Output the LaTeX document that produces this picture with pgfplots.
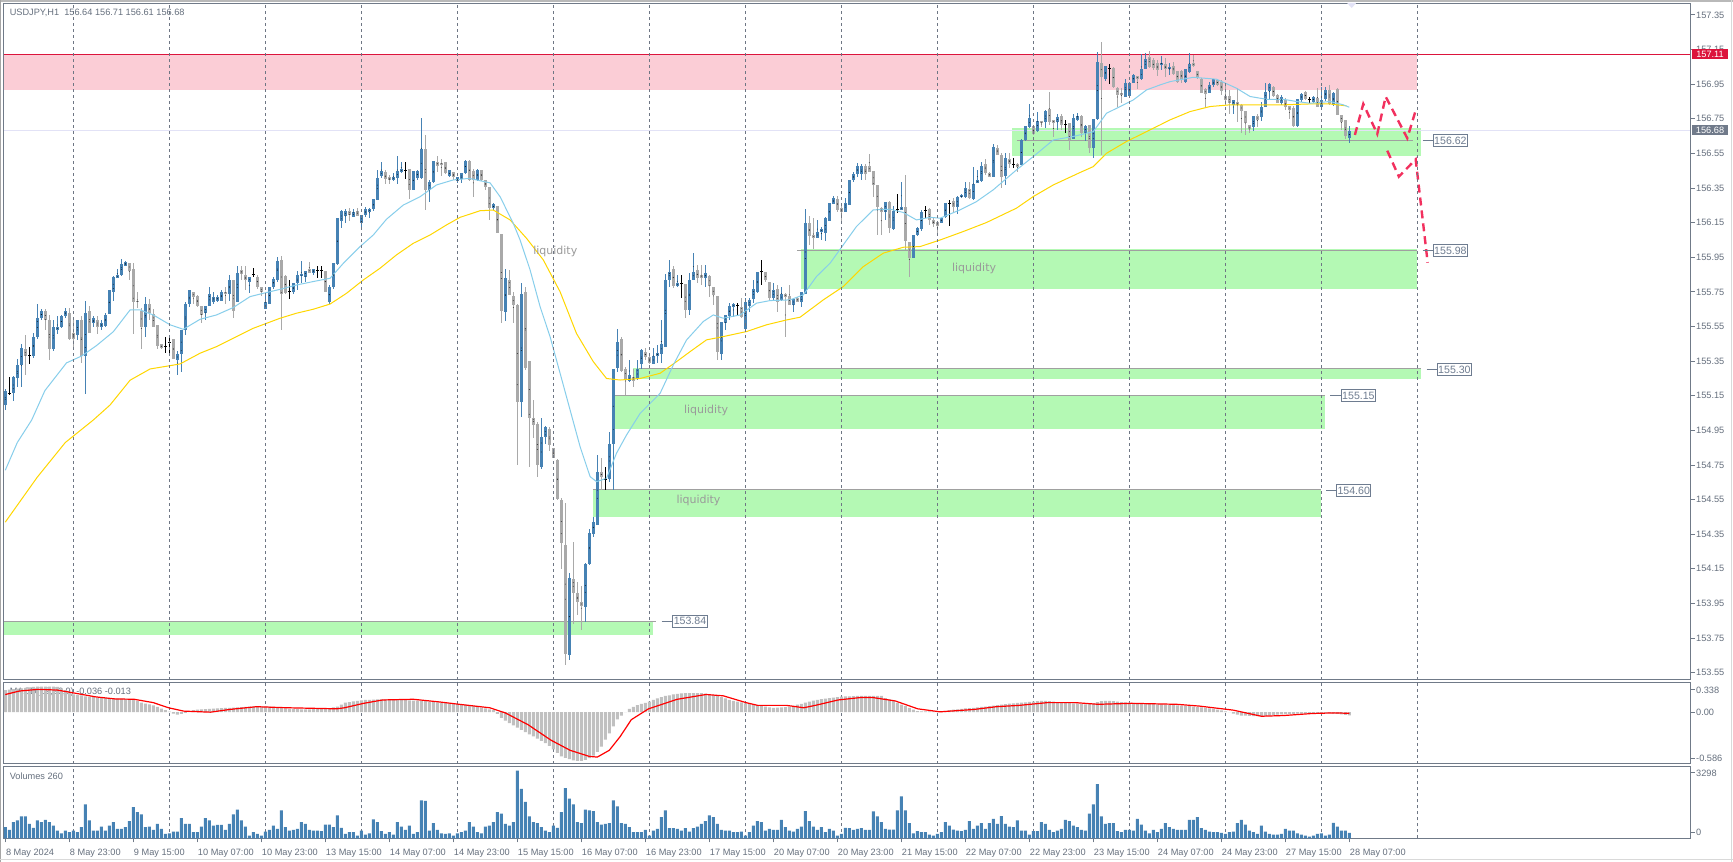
\documentclass[border=0pt]{standalone}
\usepackage{fontspec}
\setmainfont{Liberation Sans}
\newfontfamily\dejavu{DejaVu Sans}
\usepackage{pgfplots}
\usepackage{pgfplotstable}
\pgfplotsset{compat=1.18}

\definecolor{bull}{HTML}{4682B4}
\definecolor{bear}{HTML}{A9A9A9}
\definecolor{maone}{HTML}{87CEEB}
\definecolor{matwo}{HTML}{FFD700}
\definecolor{pinkz}{HTML}{FBCDD6}
\definecolor{redl}{HTML}{DC143C}
\definecolor{greenz}{HTML}{B4F9B4}
\definecolor{zline}{HTML}{A0A0A0}
\definecolor{curl}{HTML}{E2E2F6}
\definecolor{framec}{HTML}{707A88}
\definecolor{gridc}{HTML}{6E7684}
\definecolor{labc}{HTML}{66707E}
\definecolor{macdc}{HTML}{C0C0C0}
\definecolor{projc}{HTML}{F2305E}
\definecolor{liqc}{HTML}{9A9A9A}
\definecolor{boxc}{HTML}{6E7C90}
\definecolor{curbox}{HTML}{707A8A}

\newcommand\tkf{\fontsize{9.2}{11}\selectfont}
\newcommand\boxf{\fontsize{10.6}{12}\selectfont}
\newcommand\liqf{\dejavu\fontsize{11}{13}\selectfont}

\pgfplotstableread{
i o h l c
0 155.10 155.19 155.07 155.18
1 155.165 155.26 155.155 155.165
2 155.165 155.265 155.12 155.26
3 155.255 155.36 155.20 155.33
4 155.33 155.45 155.20 155.425
5 155.42 155.50 155.27 155.38
6 155.38 155.43 155.335 155.38
7 155.38 155.51 155.37 155.49
8 155.49 155.68 155.48 155.60
9 155.60 155.65 155.59 155.64
10 155.64 155.65 155.53 155.59
11 155.59 155.62 155.36 155.42
12 155.42 155.59 155.41 155.55
13 155.53 155.61 155.51 155.55
14 155.55 155.62 155.54 155.61
15 155.61 155.66 155.60 155.64
16 155.63 155.66 155.47 155.48
17 155.51 155.59 155.42 155.48
18 155.50 155.59 155.47 155.59
19 155.59 155.61 155.34 155.38
20 155.38 155.70 155.16 155.63
21 155.64 155.67 155.51 155.515
22 155.57 155.61 155.55 155.60
23 155.59 155.61 155.51 155.55
24 155.55 155.59 155.53 155.57
25 155.555 155.63 155.55 155.62
26 155.62 155.76 155.62 155.76
27 155.75 155.84 155.70 155.84
28 155.83 155.88 155.83 155.85
29 155.85 155.94 155.84 155.91
30 155.90 155.93 155.90 155.92
31 155.92 155.92 155.82 155.87
32 155.88 155.92 155.51 155.69
33 155.70 155.75 155.66 155.69
34 155.64 155.66 155.42 155.55
35 155.55 155.72 155.49 155.68
36 155.68 155.71 155.59 155.63
37 155.62 155.65 155.55 155.55
38 155.56 155.56 155.42 155.44
39 155.45 155.45 155.42 155.425
40 155.435 155.49 155.40 155.435
41 155.46 155.49 155.40 155.46
42 155.48 155.48 155.36 155.36
43 155.36 155.41 155.27 155.39
44 155.39 155.53 155.29 155.53
45 155.53 155.69 155.50 155.68
46 155.68 155.76 155.66 155.76
47 155.75 155.75 155.68 155.72
48 155.73 155.73 155.66 155.67
49 155.67 155.67 155.57 155.62
50 155.63 155.67 155.59 155.67
51 155.67 155.78 155.67 155.74
52 155.69 155.75 155.68 155.72
53 155.70 155.73 155.69 155.72
54 155.70 155.76 155.70 155.75
55 155.75 155.78 155.68 155.74
56 155.74 155.85 155.70 155.82
57 155.82 155.82 155.60 155.64
58 155.69 155.90 155.69 155.86
59 155.88 155.90 155.82 155.855
60 155.85 155.90 155.76 155.82
61 155.81 155.835 155.745 155.835
62 155.85 155.89 155.835 155.85
63 155.84 155.85 155.77 155.78
64 155.78 155.78 155.73 155.75
65 155.65 155.73 155.65 155.69
66 155.68 155.78 155.68 155.78
67 155.78 155.84 155.77 155.825
68 155.82 155.955 155.81 155.93
69 155.935 155.96 155.53 155.74
70 155.84 155.85 155.74 155.745
71 155.75 155.82 155.71 155.75
72 155.75 155.80 155.74 155.80
73 155.80 155.87 155.76 155.85
74 155.84 155.93 155.80 155.855
75 155.84 155.875 155.81 155.875
76 155.885 155.92 155.86 155.86
77 155.86 155.885 155.85 155.885
78 155.873 155.90 155.83 155.873
79 155.873 155.90 155.83 155.873
80 155.87 155.873 155.75 155.75
81 155.69 155.79 155.68 155.78
82 155.78 155.92 155.77 155.92
83 155.91 156.18 155.905 156.18
84 156.16 156.225 156.12 156.22
85 156.19 156.23 156.15 156.22
86 156.22 156.235 156.16 156.195
87 156.185 156.23 156.185 156.21
88 156.22 156.235 156.19 156.19
89 156.15 156.195 156.12 156.195
90 156.195 156.24 156.185 156.23
91 156.215 156.235 156.18 156.23
92 156.228 156.285 156.22 156.285
93 156.285 156.455 156.28 156.41
94 156.42 156.50 156.41 156.45
95 156.44 156.455 156.375 156.40
96 156.415 156.425 156.375 156.40
97 156.40 156.44 156.395 156.415
98 156.41 156.535 156.375 156.45
99 156.445 156.50 156.435 156.458
100 156.45 156.50 156.40 156.45
101 156.46 156.46 156.285 156.34
102 156.34 156.45 156.34 156.45
103 156.41 156.455 156.40 156.45
104 156.41 156.757 156.405 156.576
105 156.575 156.66 156.227 156.34
106 156.34 156.40 156.27 156.387
107 156.387 156.507 156.378 156.507
108 156.50 156.535 156.445 156.48
109 156.495 156.52 156.42 156.49
110 156.50 156.50 156.43 156.436
111 156.42 156.455 156.415 156.455
112 156.445 156.445 156.40 156.415
113 156.39 156.415 156.38 156.415
114 156.405 156.44 156.38 156.435
115 156.44 156.515 156.435 156.51
116 156.51 156.515 156.39 156.40
117 156.45 156.46 156.30 156.40
118 156.40 156.46 156.39 156.455
119 156.455 156.455 156.39 156.40
120 156.40 156.40 156.34 156.355
121 156.355 156.355 156.165 156.233
122 156.233 156.265 156.225 156.258
123 156.245 156.245 156.09 156.092
124 156.085 156.085 155.57 155.642
125 155.636 155.88 155.58 155.834
126 155.82 155.877 155.73 155.732
127 155.727 155.75 155.57 155.674
128 155.674 155.68 154.75 155.116
129 155.116 155.80 155.026 155.738
130 155.75 155.78 155.30 155.31
131 155.35 155.35 154.737 155.025
132 155.025 155.125 154.904 154.98
133 154.99 155.00 154.683 154.75
134 154.737 155.025 154.73 154.914
135 154.914 154.975 154.875 154.972
136 154.96 154.97 154.833 154.866
137 154.85 154.85 154.789 154.789
138 154.783 154.783 154.55 154.558
139 154.55 154.56 154.147 154.30
140 154.29 154.53 153.594 153.662
141 153.652 154.125 153.624 154.095
142 154.09 154.307 153.835 154.01
143 154.012 154.076 153.884 153.96
144 153.96 154.05 153.797 153.936
145 153.932 154.186 153.845 154.178
146 154.178 154.378 154.17 154.355
147 154.355 154.448 154.336 154.423
148 154.404 154.808 154.404 154.712
149 154.712 154.789 154.605 154.679
150 154.667 154.74 154.605 154.667
151 154.673 154.943 154.654 154.875
152 154.875 155.308 154.605 155.308
153 155.308 155.534 155.289 155.462
154 155.478 155.491 155.289 155.295
155 155.308 155.318 155.154 155.25
156 155.237 155.356 155.231 155.27
157 155.26 155.308 155.203 155.237
158 155.245 155.356 155.241 155.308
159 155.333 155.424 155.308 155.418
160 155.405 155.424 155.357 155.372
161 155.372 155.395 155.333 155.341
162 155.337 155.424 155.337 155.38
163 155.38 155.443 155.337 155.399
164 155.391 155.588 155.341 155.453
165 155.434 155.857 155.434 155.819
166 155.819 155.935 155.78 155.867
167 155.88 155.90 155.77 155.784
168 155.784 155.847 155.78 155.803
169 155.796 155.847 155.713 155.796
170 155.796 155.796 155.597 155.645
171 155.645 155.86 155.617 155.819
172 155.82 155.973 155.82 155.868
173 155.877 155.906 155.80 155.829
174 155.848 155.906 155.79 155.829
175 155.829 155.906 155.781 155.858
176 155.845 155.848 155.723 155.785
177 155.777 155.781 155.675 155.733
178 155.729 155.729 155.357 155.405
179 155.395 155.579 155.357 155.579
180 155.573 155.617 155.531 155.617
181 155.612 155.685 155.589 155.669
182 155.662 155.685 155.608 155.681
183 155.67 155.685 155.612 155.67
184 155.665 155.714 155.598 155.604
185 155.535 155.714 155.535 155.694
186 155.67 155.714 155.637 155.704
187 155.708 155.819 155.689 155.766
188 155.752 155.868 155.746 155.868
189 155.868 155.935 155.791 155.868
190 155.864 155.868 155.81 155.816
191 155.806 155.81 155.704 155.714
192 155.714 155.80 155.704 155.762
193 155.766 155.791 155.637 155.694
194 155.704 155.781 155.70 155.739
195 155.739 155.743 155.492 155.723
196 155.729 155.791 155.675 155.675
197 155.675 155.714 155.637 155.71
198 155.714 155.72 155.69 155.694
199 155.694 155.752 155.665 155.752
200 155.737 156.228 155.737 156.151
201 156.151 156.189 156.022 156.074
202 156.08 156.176 155.997 156.064
203 156.06 156.166 156.06 156.099
204 156.099 156.128 156.05 156.112
205 156.093 156.181 156.047 156.176
206 156.163 156.266 156.163 156.262
207 156.258 156.305 156.258 156.291
208 156.291 156.305 156.214 156.224
209 156.233 156.253 156.147 156.214
210 156.214 156.291 156.214 156.266
211 156.253 156.397 156.253 156.397
212 156.397 156.445 156.388 156.43
213 156.43 156.493 156.416 156.48
214 156.431 156.493 156.40 156.48
215 156.48 156.493 156.40 156.431
216 156.48 156.547 156.445 156.445
217 156.451 156.451 156.301 156.368
218 156.368 156.368 156.08 156.24
219 156.233 156.243 156.08 156.214
220 156.214 156.272 156.166 156.272
221 156.272 156.278 156.089 156.118
222 156.112 156.247 156.112 156.22
223 156.228 156.316 156.205 156.228
224 156.224 156.387 156.224 156.243
225 156.243 156.426 155.993 156.047
226 156.041 156.041 155.835 155.945
227 155.945 156.08 155.945 156.08
228 156.08 156.128 156.074 156.118
229 156.112 156.224 156.104 156.214
230 156.22 156.247 156.176 156.22
231 156.228 156.234 156.137 156.166
232 156.166 156.176 156.128 156.143
233 156.156 156.156 156.085 156.128
234 156.15 156.185 156.147 156.176
235 156.182 156.266 156.176 156.266
236 156.262 156.285 156.132 156.262
237 156.276 156.291 156.214 156.243
238 156.243 156.305 156.201 156.301
239 156.297 156.316 156.291 156.311
240 156.301 156.387 156.291 156.349
241 156.345 156.387 156.285 156.291
242 156.285 156.47 156.28 156.374
243 156.378 156.455 156.378 156.397
244 156.393 156.503 156.388 156.478
245 156.49 156.518 156.426 156.436
246 156.436 156.445 156.413 156.417
247 156.413 156.605 156.413 156.59
248 156.58 156.599 156.541 156.541
249 156.541 156.555 156.349 156.413
250 156.42 156.551 156.368 156.522
251 156.518 156.551 156.465 156.49
252 156.484 156.522 156.465 156.484
253 156.49 156.494 156.445 156.474
254 156.484 156.632 156.484 156.628
255 156.628 156.709 156.62 156.709
256 156.705 156.836 156.701 156.753
257 156.709 156.709 156.657 156.663
258 156.682 156.792 156.676 156.74
259 156.738 156.74 156.70 156.725
260 156.734 156.802 156.701 156.798
261 156.805 156.904 156.715 156.734
262 156.744 156.744 156.644 156.725
263 156.734 156.779 156.686 156.759
264 156.767 156.779 156.686 156.715
265 156.715 156.744 156.667 156.715
266 156.725 156.728 156.57 156.628
267 156.632 156.779 156.632 156.753
268 156.744 156.786 156.74 156.767
269 156.767 156.773 156.648 156.667
270 156.667 156.715 156.624 156.709
271 156.715 156.715 156.555 156.58
272 156.58 156.748 156.522 156.748
273 156.748 157.139 156.744 157.081
274 157.075 157.196 156.542 156.994
275 156.979 157.056 156.971 157.056
276 157.042 157.067 156.952 157.042
277 157.042 157.048 156.932 156.932
278 156.932 156.932 156.821 156.888
279 156.902 156.927 156.844 156.888
280 156.879 156.979 156.879 156.96
281 156.882 156.965 156.87 156.956
282 156.96 157.01 156.956 157.004
283 157.0 157.0 156.921 156.98
284 156.979 157.125 156.975 157.036
285 157.036 157.129 157.036 157.094
286 157.11 157.145 157.048 157.052
287 157.09 157.10 157.03 157.042
288 157.075 157.09 157.00 157.036
289 157.062 157.11 157.029 157.075
290 157.067 157.10 156.994 157.036
291 157.036 157.071 157.004 157.048
292 157.056 157.081 157.004 157.01
293 157.029 157.029 156.96 156.965
294 157.029 157.035 156.96 156.975
295 156.96 157.036 156.955 157.036
296 157.023 157.129 157.013 157.067
297 157.071 157.119 157.052 157.056
298 157.029 157.029 156.98 156.99
299 156.979 156.985 156.898 156.902
300 156.921 156.927 156.811 156.894
301 156.902 156.965 156.898 156.946
302 156.946 156.979 156.936 156.979
303 156.975 156.979 156.94 156.946
304 156.965 156.975 156.888 156.913
305 156.882 156.946 156.831 156.859
306 156.882 156.917 156.779 156.844
307 156.831 156.859 156.779 156.859
308 156.85 156.927 156.734 156.831
309 156.831 156.836 156.671 156.798
310 156.798 156.798 156.657 156.725
311 156.715 156.715 156.667 156.69
312 156.701 156.767 156.682 156.767
313 156.767 156.779 156.701 156.744
314 156.759 156.85 156.74 156.821
315 156.821 156.956 156.817 156.908
316 156.908 156.956 156.86 156.95
317 156.936 156.94 156.879 156.882
318 156.888 156.892 156.844 156.844
319 156.844 156.888 156.831 156.879
320 156.863 156.869 156.802 156.821
321 156.821 156.825 156.748 156.802
322 156.811 156.825 156.701 156.709
323 156.709 156.863 156.701 156.863
324 156.86 156.902 156.85 156.894
325 156.908 156.913 156.859 156.863
326 156.859 156.879 156.844 156.859
327 156.85 156.885 156.844 156.875
328 156.869 156.927 156.821 156.821
329 156.821 156.936 156.817 156.863
330 156.863 156.936 156.856 156.917
331 156.917 156.946 156.831 156.836
332 156.831 156.908 156.825 156.898
333 156.921 156.927 156.773 156.773
334 156.773 156.773 156.686 156.734
335 156.744 156.744 156.632 156.651
336 156.64 156.71 156.61 156.68
}\candles

\pgfplotstableread{
i v m
0 541 0.25
1 410 0.255
2 787 0.26
3 869 0.265
4 1066 0.27
5 1066 0.275
6 705 0.28
7 508 0.285
8 869 0.29
9 787 0.29
10 902 0.29
11 787 0.29
12 623 0.29
13 377 0.285
14 246 0.27
15 377 0.25
16 295 0.225
17 377 0.20
18 295 0.195
19 541 0.19
20 1656 0.18
21 869 0.175
22 377 0.17
23 377 0.165
24 574 0.162
25 377 0.16
26 623 0.158
27 787 0.155
28 459 0.153
29 459 0.15
30 541 0.148
31 836 0.146
32 1525 0.14
33 1279 0.125
34 1164 0.108
35 541 0.098
36 574 0.088
37 410 0.077
38 705 0.06
39 459 0.04
40 213 0.023
41 246 0.005
42 328 -0.015
43 328 -0.027
44 984 -0.02
45 705 -0.008
46 705 0.01
47 295 0.023
48 295 0.028
49 574 0.032
50 984 0.035
51 869 0.038
52 623 0.04
53 656 0.042
54 656 0.045
55 410 0.048
56 705 0.05
57 1164 0.052
58 1394 0.055
59 869 0.058
60 574 0.06
61 131 0.062
62 295 0.062
63 213 0.062
64 131 0.062
65 328 0.062
66 410 0.062
67 623 0.058
68 459 0.053
69 1361 0.048
70 541 0.043
71 377 0.038
72 410 0.036
73 459 0.034
74 787 0.032
75 705 0.031
76 410 0.032
77 377 0.034
78 377 0.036
79 344 0.037
80 672 0.038
81 672 0.045
82 541 0.055
83 1115 0.062
84 508 0.085
85 213 0.108
86 295 0.115
87 295 0.122
88 131 0.128
89 377 0.134
90 180 0.138
91 246 0.14
92 918 0.142
93 787 0.144
94 344 0.146
95 213 0.145
96 295 0.143
97 180 0.141
98 787 0.139
99 574 0.138
100 410 0.136
101 623 0.134
102 213 0.132
103 295 0.13
104 1853 0.127
105 1820 0.124
106 377 0.12
107 738 0.116
108 410 0.112
109 246 0.108
110 213 0.104
111 246 0.1
112 131 0.096
113 246 0.092
114 295 0.089
115 377 0.083
116 787 0.077
117 574 0.071
118 295 0.062
119 246 0.052
120 574 0.042
121 623 0.032
122 787 0.023
123 1279 -0.02
124 1197 -0.065
125 705 -0.095
126 623 -0.123
127 787 -0.15
128 3296 -0.175
129 2411 -0.2
130 1771 -0.225
131 1066 -0.25
132 787 -0.275
133 738 -0.3
134 541 -0.325
135 377 -0.35
136 295 -0.38
137 623 -0.42
138 508 -0.46
139 1279 -0.5
140 2444 -0.516
141 1935 -0.53
142 1656 -0.546
143 787 -0.55
144 738 -0.55
145 1394 -0.54
146 1361 -0.52
147 1328 -0.49
148 787 -0.45
149 672 -0.39
150 705 -0.31
151 738 -0.24
152 1853 -0.16
153 1558 -0.08
154 738 -0.04
155 705 0.0
156 541 0.038
157 295 0.06
158 295 0.08
159 295 0.095
160 410 0.105
161 131 0.12
162 377 0.14
163 459 0.155
164 1033 0.17
165 1361 0.185
166 492 0.19
167 492 0.2
168 459 0.207
169 377 0.213
170 492 0.215
171 328 0.215
172 492 0.215
173 574 0.215
174 705 0.215
175 836 0.21
176 1115 0.205
177 1033 0.195
178 705 0.185
179 410 0.17
180 377 0.155
181 377 0.14
182 295 0.127
183 295 0.118
184 328 0.11
185 131 0.1
186 295 0.092
187 623 0.085
188 836 0.077
189 787 0.07
190 377 0.062
191 459 0.055
192 410 0.05
193 410 0.052
194 902 0.055
195 541 0.058
196 377 0.062
197 328 0.072
198 459 0.085
199 574 0.095
200 1328 0.108
201 836 0.12
202 574 0.13
203 410 0.14
204 541 0.148
205 295 0.154
206 459 0.16
207 377 0.165
208 131 0.17
209 213 0.175
210 508 0.178
211 492 0.18
212 410 0.182
213 459 0.185
214 492 0.185
215 410 0.185
216 410 0.185
217 1312 0.185
218 1066 0.185
219 787 0.185
220 459 0.16
221 426 0.146
222 426 0.125
223 1361 0.105
224 2050 0.085
225 1361 0.069
226 738 0.05
227 246 0.03
228 344 0.012
229 295 0.01
230 295 0.01
231 180 0.01
232 131 0.01
233 213 0.012
234 295 0.012
235 787 0.016
236 623 0.022
237 426 0.028
238 377 0.033
239 344 0.038
240 410 0.042
241 836 0.046
242 459 0.05
243 623 0.055
244 738 0.06
245 459 0.064
246 738 0.069
247 951 0.074
248 705 0.08
249 1082 0.085
250 705 0.09
251 574 0.096
252 541 0.1
253 869 0.105
254 377 0.108
255 377 0.112
256 180 0.116
257 344 0.12
258 344 0.124
259 787 0.127
260 705 0.127
261 410 0.125
262 295 0.12
263 377 0.115
264 459 0.11
265 902 0.108
266 836 0.104
267 623 0.1
268 541 0.096
269 410 0.092
270 377 0.089
271 1197 0.092
272 1656 0.1
273 2640 0.115
274 1066 0.125
275 705 0.127
276 738 0.127
277 738 0.124
278 344 0.12
279 295 0.115
280 410 0.11
281 410 0.108
282 377 0.105
283 951 0.102
284 672 0.1
285 377 0.098
286 246 0.095
287 410 0.092
288 295 0.089
289 459 0.087
290 738 0.085
291 541 0.082
292 459 0.079
293 410 0.076
294 410 0.073
295 410 0.07
296 902 0.069
297 902 0.064
298 1033 0.058
299 492 0.053
300 410 0.048
301 328 0.043
302 295 0.038
303 295 0.03
304 262 0.02
305 213 0.01
306 295 0.0
307 328 -0.015
308 738 -0.028
309 902 -0.038
310 672 -0.04
311 377 -0.042
312 295 -0.044
313 213 -0.045
314 623 -0.046
315 328 -0.042
316 213 -0.035
317 180 -0.03
318 180 -0.027
319 213 -0.024
320 459 -0.022
321 377 -0.02
322 377 -0.018
323 246 -0.016
324 180 -0.015
325 131 -0.013
326 82 -0.012
327 131 -0.01
328 213 -0.009
329 246 -0.008
330 131 -0.01
331 180 -0.012
332 754 -0.015
333 574 -0.02
334 377 -0.025
335 377 -0.03
336 260 -0.036
}\ind

\pgfplotsset{
  mtbase/.style={
    scale only axis, width=1687pt, anchor=south west,
    xmin=-0.325, xmax=421.425,
    axis line style={draw=framec, line width=1pt},
    tick align=outside, major tick length=4pt,
    tick style={draw=framec, line width=1pt},
    ytick pos=right, yticklabel pos=right,
    yticklabel style={font=\tkf, text=labc, anchor=west, inner sep=0pt, xshift=1pt},
    major grid style={draw=gridc, dash pattern=on 3pt off 3pt, line width=0.8pt},
    extra x ticks={17,41,...,353},
    extra x tick labels={},
    extra x tick style={grid=major, major tick length=0pt},
  },
  cdl/.style={only marks, mark=*, mark size=0.1pt, mark options={draw=none, fill=none}, forget plot},
}

\begin{document}
\begin{tikzpicture}
\path[use as bounding box] (0pt,0pt) rectangle (1733pt,862pt);
\fill[white] (0pt,0pt) rectangle (1733pt,862pt);
\fill[gray!55] (0pt,860.3pt) rectangle (1733pt,862pt);
\draw[gray!70, line width=1pt] (0.5pt,0pt) -- (0.5pt,862pt);
\draw[gray!30, line width=1pt] (1731pt,0pt) -- (1731pt,862pt);
\draw[gray!30, line width=1pt] (0pt,2pt) -- (1733pt,2pt);

% ===== main price panel =====
\begin{axis}[mtbase, at={(4pt,182pt)}, height=676pt,
  ymin=153.508, ymax=157.4135, axis on top, xtick=\empty,
  ytick={153.55,153.75,153.95,154.15,154.35,154.55,154.75,154.95,155.15,155.35,155.55,155.75,155.95,156.15,156.35,156.55,156.75,156.95,157.15,157.35},
  yticklabels={153.55,153.75,153.95,154.15,154.35,154.55,154.75,154.95,155.15,155.35,155.55,155.75,155.95,156.15,156.35,156.55,156.75,156.95,157.15,157.35}]
% zones
\fill[pinkz] (axis cs:-1,156.917) rectangle (axis cs:352.9,157.119);
\fill[greenz] (axis cs:251.8,156.535) rectangle (axis cs:353.9,156.699);
\fill[greenz] (axis cs:198.9,155.765) rectangle (axis cs:352.9,155.996);
\fill[greenz] (axis cs:157,155.247) rectangle (axis cs:353.9,155.31);
\fill[greenz] (axis cs:152.4,154.957) rectangle (axis cs:329.9,155.153);
\fill[greenz] (axis cs:147,154.452) rectangle (axis cs:328.9,154.606);
\fill[greenz] (axis cs:-1,153.768) rectangle (axis cs:161.9,153.845);
\draw[zline, line width=1pt] (axis cs:252.9,156.624) -- (axis cs:351.9,156.624);
\draw[zline, line width=1pt] (axis cs:198,155.988) -- (axis cs:352.9,155.988);
\draw[zline, line width=1pt] (axis cs:158.5,155.305) -- (axis cs:353.9,155.305);
\draw[zline, line width=1pt] (axis cs:152.4,155.153) -- (axis cs:329.9,155.153);
\draw[zline, line width=1pt] (axis cs:147,154.606) -- (axis cs:328.9,154.606);
\draw[zline, line width=1pt] (axis cs:-1,153.845) -- (axis cs:162.7,153.845);
\draw[curl, line width=1pt] (axis cs:-1,156.683) -- (axis cs:430,156.683);
\draw[redl, line width=1pt] (axis cs:-1,157.119) -- (axis cs:430,157.119);
% candles: doji
\addplot[cdl,
  restrict expr to domain={(\thisrow{c}-\thisrow{o})*1000+50}{49.5:50.5},
  error bars/.cd, y dir=both, y explicit, error mark=none,
  error bar style={draw=black, line width=1pt}]
  table[x=i, y expr={(\thisrow{h}+\thisrow{l})/2}, y error expr={(\thisrow{h}-\thisrow{l})/2}] {\candles};
\addplot[cdl,
  restrict expr to domain={(\thisrow{c}-\thisrow{o})*1000+50}{49.5:50.5},
  error bars/.cd, x dir=both, x explicit, error mark=none,
  error bar style={draw=black, line width=1pt}]
  table[x=i, y=o, x error expr={0.4}] {\candles};
% bull
\addplot[cdl,
  restrict expr to domain={\thisrow{c}-\thisrow{o}+1}{1.00001:100},
  error bars/.cd, y dir=both, y explicit, error mark=none,
  error bar style={draw=bull, line width=1pt}]
  table[x=i, y expr={(\thisrow{h}+\thisrow{l})/2}, y error expr={(\thisrow{h}-\thisrow{l})/2}] {\candles};
\addplot[cdl,
  restrict expr to domain={\thisrow{c}-\thisrow{o}+1}{1.00001:100},
  error bars/.cd, y dir=both, y explicit, error mark=none,
  error bar style={draw=bull, line width=3pt}]
  table[x=i, y expr={(\thisrow{o}+\thisrow{c})/2}, y error expr={(\thisrow{c}-\thisrow{o})/2}] {\candles};
% bear
\addplot[cdl,
  restrict expr to domain={\thisrow{o}-\thisrow{c}+1}{1.00001:100},
  error bars/.cd, y dir=both, y explicit, error mark=none,
  error bar style={draw=bear, line width=1pt}]
  table[x=i, y expr={(\thisrow{h}+\thisrow{l})/2}, y error expr={(\thisrow{h}-\thisrow{l})/2}] {\candles};
\addplot[cdl,
  restrict expr to domain={\thisrow{o}-\thisrow{c}+1}{1.00001:100},
  error bars/.cd, y dir=both, y explicit, error mark=none,
  error bar style={draw=bear, line width=3pt}]
  table[x=i, y expr={(\thisrow{o}+\thisrow{c})/2}, y error expr={(\thisrow{o}-\thisrow{c})/2}] {\candles};
% moving averages
\addplot[matwo, line width=1pt] coordinates {(0,154.42)(8,154.68)(15,154.88)(22,155.01)(26.2,155.097)(31.2,155.24)(36.2,155.305)(41.2,155.324)(43.7,155.334)(48.7,155.396)(52.8,155.434)(58.7,155.502)(62,155.54)(68.7,155.598)(72.8,155.627)(77,155.65)(81.2,155.68)(85.3,155.742)(89.5,155.819)(93.7,155.887)(97.8,155.964)(102,156.031)(106.2,156.079)(110.3,156.137)(113.7,156.181)(118.7,156.219)(122,156.223)(126.2,156.166)(130.3,156.06)(134.5,155.935)(138.7,155.751)(142.8,155.51)(147,155.347)(150.3,155.25)(153.7,155.241)(158.7,155.25)(163.7,155.28)(167.8,155.347)(171.2,155.405)(175.3,155.473)(179.5,155.492)(185.3,155.521)(190.3,155.56)(195.3,155.588)(198.7,155.604)(204.5,155.704)(209.5,155.781)(214.5,155.896)(219.5,155.974)(224.5,156.008)(228.7,156.012)(233.7,156.05)(239.5,156.099)(245.3,156.151)(252.8,156.234)(257,156.301)(262,156.368)(268.7,156.44)(272,156.474)(275.3,156.551)(280.3,156.619)(285.3,156.676)(288.7,156.715)(291.2,156.744)(296.2,156.792)(301.2,156.821)(306.2,156.831)(311.2,156.831)(319.5,156.831)(326.2,156.836)(331.2,156.836)(335.3,156.825)};
\addplot[maone, line width=1pt] coordinates {(0,154.72)(3,154.88)(6.6,155.01)(9.9,155.18)(15.3,155.34)(19.1,155.38)(22.8,155.44)(27,155.52)(31.2,155.646)(33.7,155.646)(37,155.617)(41.2,155.56)(44.5,155.534)(48.7,155.592)(52.8,155.617)(57,155.66)(61.2,155.723)(64.5,155.742)(68.7,155.765)(72.8,155.79)(77,155.81)(81.2,155.829)(84.5,155.915)(88.7,156.012)(92,156.079)(95.3,156.17)(99.5,156.252)(103.7,156.30)(107.8,156.368)(112,156.397)(116,156.406)(121.2,156.38)(123.7,156.30)(127,156.146)(128.7,156.05)(131.2,155.877)(133.7,155.665)(136.2,155.491)(138.7,155.28)(141.2,155.068)(143.7,154.856)(146.2,154.683)(147.8,154.654)(150.3,154.673)(152.8,154.818)(155.3,154.923)(158.7,155.048)(163.7,155.164)(167,155.328)(170.3,155.472)(174.5,155.579)(177,155.617)(179.5,155.598)(183.7,155.617)(187.8,155.685)(191.2,155.70)(196.2,155.704)(199.5,155.733)(202.8,155.839)(206.2,155.916)(209.5,156.022)(212.8,156.128)(217,156.224)(221.2,156.228)(224.5,156.209)(227.8,156.166)(231.2,156.181)(233.7,156.176)(238.7,156.224)(242.8,156.272)(247,156.34)(252.8,156.455)(257,156.532)(262,156.628)(267,156.648)(272,156.676)(275.3,156.782)(278.7,156.821)(282,156.859)(285.3,156.917)(288.7,156.946)(291.2,156.965)(297,156.99)(302.8,156.979)(307.8,156.927)(311.2,156.879)(315.3,156.863)(319.5,156.863)(322.8,156.85)(326.2,156.84)(331.2,156.85)(334.5,156.831)(336,156.817)};
% projection
\addplot[projc, line width=2.4pt, dash pattern=on 8pt off 5pt] coordinates {(337.4,156.657)(339.5,156.836)(343.0,156.663)(345.1,156.878)(350.5,156.638)(352.7,156.806)};
\addplot[projc, line width=2.4pt, dash pattern=on 8pt off 5pt] coordinates {(345.5,156.566)(348.4,156.416)(352.6,156.516)(355.6,155.919)};
% labels
\node[font=\liqf, text=liqc] at (axis cs:137.5,155.983) {liquidity};
\node[font=\liqf, text=liqc] at (axis cs:242.2,155.887) {liquidity};
\node[font=\liqf, text=liqc] at (axis cs:175.2,155.068) {liquidity};
\node[font=\liqf, text=liqc] at (axis cs:173.3,154.544) {liquidity};
\end{axis}

\node[anchor=west, text=labc, font=\tkf, inner sep=0pt] at (9.6pt,849.3pt) {USDJPY,H1\ \ 156.64 156.71 156.61 156.68};

% price boxes
\node[fill=redl, text=white, font=\tkf, inner sep=0pt, minimum width=35.7pt, minimum height=9.8pt, anchor=west] at (1692pt,807.8pt) {157.11};
\node[fill=curbox, text=white, font=\tkf, inner sep=0pt, minimum width=35.7pt, minimum height=9.8pt, anchor=west] at (1692pt,732pt) {156.68};
\fill[curl] (1347.2pt,859pt) -- (1356.2pt,859pt) -- (1351.7pt,854pt) -- cycle;

\tikzset{lbox/.style={draw=boxc, line width=1pt, fill=white, text=boxc, font=\boxf, inner xsep=1pt, inner ysep=0pt, minimum height=11.7pt, anchor=west}}
\draw[boxc, line width=1pt] (1422.7pt,721.2pt) -- (1432.7pt,721.2pt);
\node[lbox] at (1432.7pt,721.2pt) {156.62};
\draw[boxc, line width=1pt] (1422.7pt,611.2pt) -- (1432.7pt,611.2pt);
\node[lbox] at (1432.7pt,611.2pt) {155.98};
\draw[boxc, line width=1pt] (1426.7pt,492.5pt) -- (1436.7pt,492.5pt);
\node[lbox] at (1436.7pt,492.5pt) {155.30};
\draw[boxc, line width=1pt] (1330pt,466.2pt) -- (1340.7pt,466.2pt);
\node[lbox] at (1340.7pt,466.2pt) {155.15};
\draw[boxc, line width=1pt] (1326pt,371.2pt) -- (1336pt,371.2pt);
\node[lbox] at (1336pt,371.2pt) {154.60};
\draw[boxc, line width=1pt] (661.7pt,240.8pt) -- (672.3pt,240.8pt);
\node[lbox] at (672.3pt,240.8pt) {153.84};

% ===== MACD panel =====
\node[anchor=west, text=labc, font=\tkf, inner sep=0pt] at (9.6pt,170.3pt) {MACD(12,26,9) -0.036 -0.013};
\begin{axis}[mtbase, at={(4pt,98pt)}, height=81.7pt,
  ymin=-0.586, ymax=0.338, xtick=\empty,
  ytick={-0.5215,0,0.251}, yticklabels={-0.586,0.00,0.338}]
\addplot[ybar, bar width=3pt, fill=macdc, draw=none] table[x=i, y=m] {\ind};
\addplot[red, line width=1.2pt] coordinates {(0,0.2)(3.5,0.239)(8.2,0.258)(13,0.25)(17.8,0.212)(22.6,0.173)(27.4,0.15)(32.2,0.146)(37,0.108)(40.8,0.05)(44.6,0.012)(51.3,0)(56.1,0.031)(62.8,0.062)(70.4,0.05)(82.9,0.038)(84.8,0.05)(89.6,0.1)(94.3,0.138)(102,0.146)(108.7,0.115)(113.5,0.089)(121.1,0.05)(125,-0.008)(130.7,-0.142)(136.4,-0.316)(141.2,-0.431)(146,-0.5)(148,-0.508)(151,-0.431)(153.7,-0.277)(156.5,-0.085)(160.8,0.038)(168,0.146)(175.2,0.2)(179.5,0.185)(185.2,0.108)(188.1,0.077)(195.3,0.077)(199.6,0.05)(202.5,0.077)(208.2,0.138)(213.9,0.166)(216.8,0.166)(222.5,0.127)(228.1,0.038)(233.7,0.004)(242.2,0.031)(247.8,0.062)(253.5,0.077)(260.5,0.108)(267.5,0.108)(273.2,0.089)(281.6,0.1)(292.9,0.089)(298.5,0.069)(307,0.023)(314,-0.046)(319.6,-0.038)(326.7,-0.015)(332.3,-0.008)(336,-0.013)};
\end{axis}

% ===== Volume panel =====
\node[anchor=west, text=labc, font=\tkf, inner sep=0pt] at (9.6pt,86pt) {Volumes 260};
\begin{axis}[mtbase, at={(4pt,23.7pt)}, height=71.6pt,
  ymin=0, ymax=3491,
  xtick={0,16,...,336}, xtick pos=left,
  xticklabels={8 May 2024,8 May 23:00,9 May 15:00,10 May 07:00,10 May 23:00,13 May 15:00,14 May 07:00,14 May 23:00,15 May 15:00,16 May 07:00,16 May 23:00,17 May 15:00,20 May 07:00,20 May 23:00,21 May 15:00,22 May 07:00,22 May 23:00,23 May 15:00,24 May 07:00,24 May 23:00,27 May 15:00,28 May 07:00},
  xticklabel style={font=\tkf, text=labc, anchor=west, inner sep=0pt, yshift=-10.7pt, xshift=0.5pt},
  ytick={273,3184}, yticklabels={0,3298}]
\addplot[ybar, bar width=3pt, fill=bull, draw=none] table[x=i, y=v] {\ind};
\end{axis}
\end{tikzpicture}
\end{document}
